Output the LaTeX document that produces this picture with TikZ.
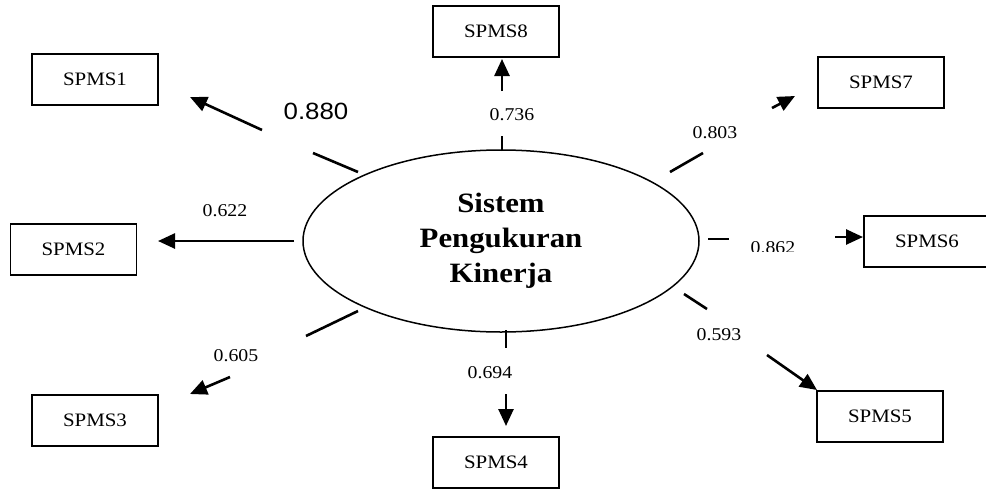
\documentclass[tikz,border=0pt]{standalone}
\usepackage{fontspec}
\setmainfont{Liberation Serif}[FakeStretch=1.1]
\newfontfamily\numsans{Liberation Sans}[FakeStretch=1.1]
\usetikzlibrary{arrows.meta,shapes.geometric}
\tikzset{
  ind/.style={draw, line width=1.6pt, minimum width=126pt, minimum height=51pt, inner sep=0pt, font=\fontsize{19}{23}\selectfont},
  lat/.style={draw, ellipse, line width=1.5pt, minimum width=396pt, minimum height=182pt, inner sep=0pt, align=center, font=\fontsize{28}{35}\selectfont\bfseries},
  arr/.style={line width=2.6pt, -{Triangle[length=17pt,width=15pt]}},
  seg/.style={line width=2.6pt},
  lbl/.style={inner sep=0pt, font=\fontsize{18}{22}\selectfont},
}
\begin{document}
\begin{tikzpicture}[x=1pt,y=-1pt]
\useasboundingbox (0,0) rectangle (986,488);
% latent variable
\node[lat] (lv) at (501,241) {Sistem\\Pengukuran\\Kinerja};
% indicators
\node[ind] (s1) at (95,79.5) {SPMS1};
\node[ind] (s2) at (73.5,249.5) {SPMS2};
\node[ind] (s3) at (95,420.5) {SPMS3};
\node[ind] (s4) at (496,462.5) {SPMS4};
\node[ind] (s5) at (880,416.5) {SPMS5};
\node[ind] (s6) at (927,241.5) {SPMS6};
\node[ind] (s7) at (881,82.5) {SPMS7};
\node[ind] (s8) at (496,31.5) {SPMS8};
% connector pieces
\coordinate (a1t) at (262,130); \coordinate (a1h) at (190,97);
\coordinate (a2t) at (294,241); \coordinate (a2h) at (158,241);
\coordinate (a3t) at (230,377); \coordinate (a3h) at (190,394);
\coordinate (a4t) at (506,394); \coordinate (a4h) at (506,426);
\coordinate (a5t) at (767,355); \coordinate (a5h) at (817,390);
\coordinate (a6t) at (835,237); \coordinate (a6h) at (863,237);
\coordinate (a7t) at (772,108); \coordinate (a7h) at (795,96);
\coordinate (a8t) at (502,91);  \coordinate (a8h) at (502,59);
\coordinate (b1s) at (358,172); \coordinate (b1e) at (313,153);
\coordinate (b3s) at (358,311); \coordinate (b3e) at (306,336);
\coordinate (b4s) at (506,330); \coordinate (b4e) at (506,348);
\coordinate (b5s) at (684,294); \coordinate (b5e) at (707,309);
\coordinate (b6s) at (708,239); \coordinate (b6e) at (729,239);
\coordinate (b7s) at (670,172); \coordinate (b7e) at (703,153);
\coordinate (b8s) at (502,151); \coordinate (b8e) at (502,136);
\foreach \i in {1,3,4,5,6,7,8} {\draw[seg] (b\i s) -- (b\i e);}
\foreach \i in {1,...,8} {\draw[arr] (a\i t) -- (a\i h);}
% loadings
\node[inner sep=0pt, font=\numsans\fontsize{23.5}{28}\selectfont] (l1) at (316,111) {0.880};
\node[lbl] (l2) at (225,211) {0.622};
\node[lbl] (l3) at (236,356) {0.605};
\node[lbl] (l4) at (490,373) {0.694};
\node[lbl] (l5) at (719,335) {0.593};
\begin{scope}
\clip (720,225) rectangle (830,251.8);
\node[lbl] (l6) at (773,248) {0.862};
\end{scope}
\node[lbl] (l7) at (715,133) {0.803};
\node[lbl] (l8) at (512,115) {0.736};
\end{tikzpicture}
\end{document}
